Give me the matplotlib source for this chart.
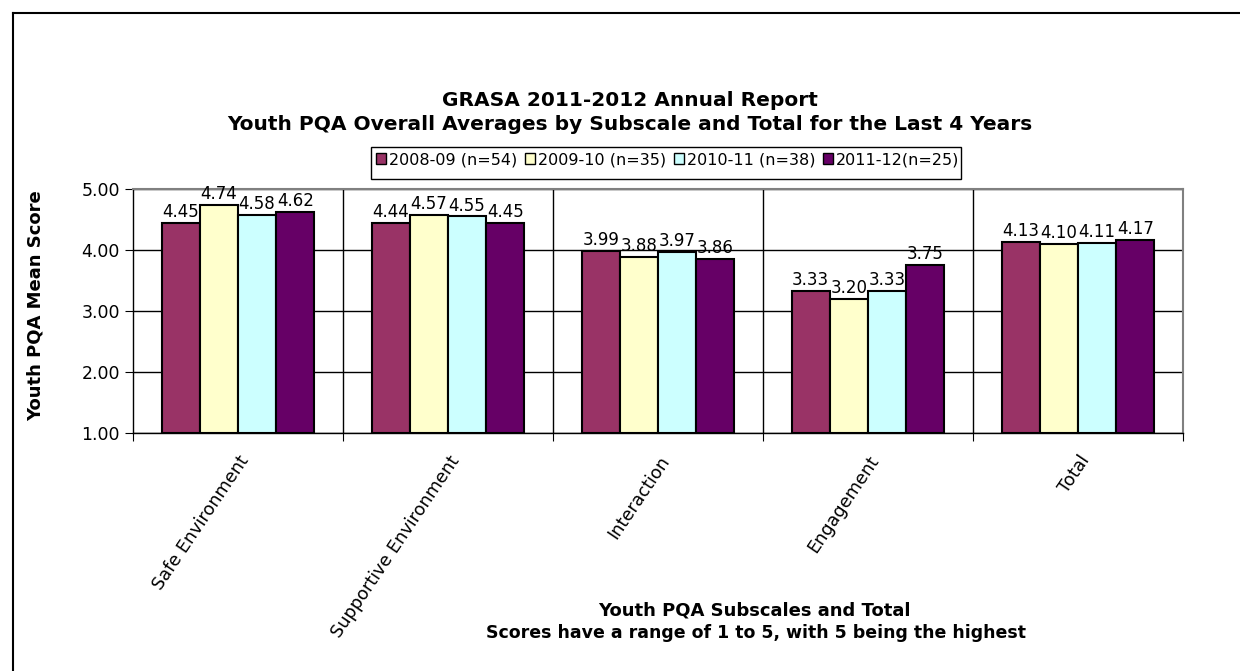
import numpy as np
import matplotlib.pyplot as plt
from matplotlib.lines import Line2D
from matplotlib.patches import Rectangle

plt.rcParams['font.family'] = ['DejaVu Sans']

categories = ['Safe Environment', 'Supportive Environment', 'Interaction', 'Engagement', 'Total']
series_names = ['2008-09 (n=54)', '2009-10 (n=35)', '2010-11 (n=38)', '2011-12(n=25)']
s2008 = [4.45, 4.44, 3.99, 3.33, 4.13]
s2009 = [4.74, 4.57, 3.88, 3.20, 4.10]
s2010 = [4.58, 4.55, 3.97, 3.33, 4.11]
s2011 = [4.62, 4.45, 3.86, 3.75, 4.17]
colors = ['#993366', '#FFFFCC', '#CCFFFF', '#660066']

W, H = 1240, 671
fig = plt.figure(figsize=(W / 100, H / 100), dpi=100)
ax = fig.add_axes([133 / W, 1 - 433 / H, 1050 / W, 244 / H])

x = np.arange(len(categories))
bw = 0.182
for i, (vals, name, c) in enumerate(zip([s2008, s2009, s2010, s2011], series_names, colors)):
    pos = x + (i - 1.5) * bw
    ax.bar(pos, np.array(vals) - 1, bottom=1, width=bw, color=c, edgecolor='black',
           linewidth=1.5, label=name, zorder=3)
    for px, v in zip(pos, vals):
        ax.text(px, v + 0.03, f'{v:.2f}', ha='center', va='bottom', fontsize=12, zorder=4)

ax.set_xlim(-0.5, len(categories) - 0.5)
ax.set_ylim(1, 5)
ax.set_yticks([1, 2, 3, 4, 5])
ax.set_yticklabels([f'{t:.2f}' for t in [1, 2, 3, 4, 5]], fontsize=12.5)
ax.yaxis.grid(True, color='black', linewidth=1, zorder=0)

# category boundaries as gridlines/ticks
ax.set_xticks(np.arange(-0.5, len(categories) + 0.5, 1))
ax.set_xticklabels([])
for b in np.arange(0.5, len(categories) - 0.5, 1):
    ax.axvline(b, color='black', linewidth=1, zorder=0)
ax.set_xticks(x, minor=True)
ax.set_xticklabels(categories, minor=True, rotation=56, ha='right', va='top',
                   rotation_mode='anchor', fontsize=12.7)
ax.tick_params(axis='x', which='minor', length=0, pad=14)
ax.tick_params(axis='x', which='major', length=6, color='black')
ax.tick_params(axis='y', length=6, color='black')

for s in ['top', 'right']:
    ax.spines[s].set_color('#808080')
    ax.spines[s].set_linewidth(1.5)
for s in ['left', 'bottom']:
    ax.spines[s].set_color('black')
    ax.spines[s].set_linewidth(1)

ax.set_ylabel('Youth PQA Mean Score', fontsize=13, fontweight='bold')
ax.yaxis.set_label_coords(-0.084, 0.52)

fig.text(630 / W, 1 - 101 / H, 'GRASA 2011-2012 Annual Report', ha='center', va='center',
         fontsize=14.5, fontweight='bold')
fig.text(630 / W, 1 - 124 / H, 'Youth PQA Overall Averages by Subscale and Total for the Last 4 Years',
         ha='center', va='center', fontsize=14.5, fontweight='bold')
fig.text(754 / W, 1 - 610 / H, 'Youth PQA Subscales and Total', ha='center', va='center',
         fontsize=13, fontweight='bold')
fig.text(756 / W, 1 - 633 / H, 'Scores have a range of 1 to 5, with 5 being the highest',
         ha='center', va='center', fontsize=12.5, fontweight='bold')

# legend: entries without frame, box drawn separately (taller than text like the original)
leg = fig.legend(loc='upper left', bbox_to_anchor=(373 / W, 1 - 149 / H), ncol=4,
                 fontsize=11.5, frameon=False, handlelength=0.6, handleheight=0.6,
                 handletextpad=0.2, columnspacing=0.5, borderpad=0.2, borderaxespad=0)
for h in leg.legend_handles:
    h.set_linewidth(1)
fig.add_artist(Rectangle((371 / W, 1 - 179 / H), 590 / W, 32 / H, transform=fig.transFigure,
                         fill=False, edgecolor='black', linewidth=1))

# outer frame (left and top edges visible)
fig.add_artist(Line2D([12.5 / W, 12.5 / W], [0, 1 - 12.5 / H], color='black', linewidth=1.5))
fig.add_artist(Line2D([12.5 / W, 1], [1 - 12.5 / H, 1 - 12.5 / H], color='black', linewidth=1.5))

fig.savefig('out.png', dpi=100)
